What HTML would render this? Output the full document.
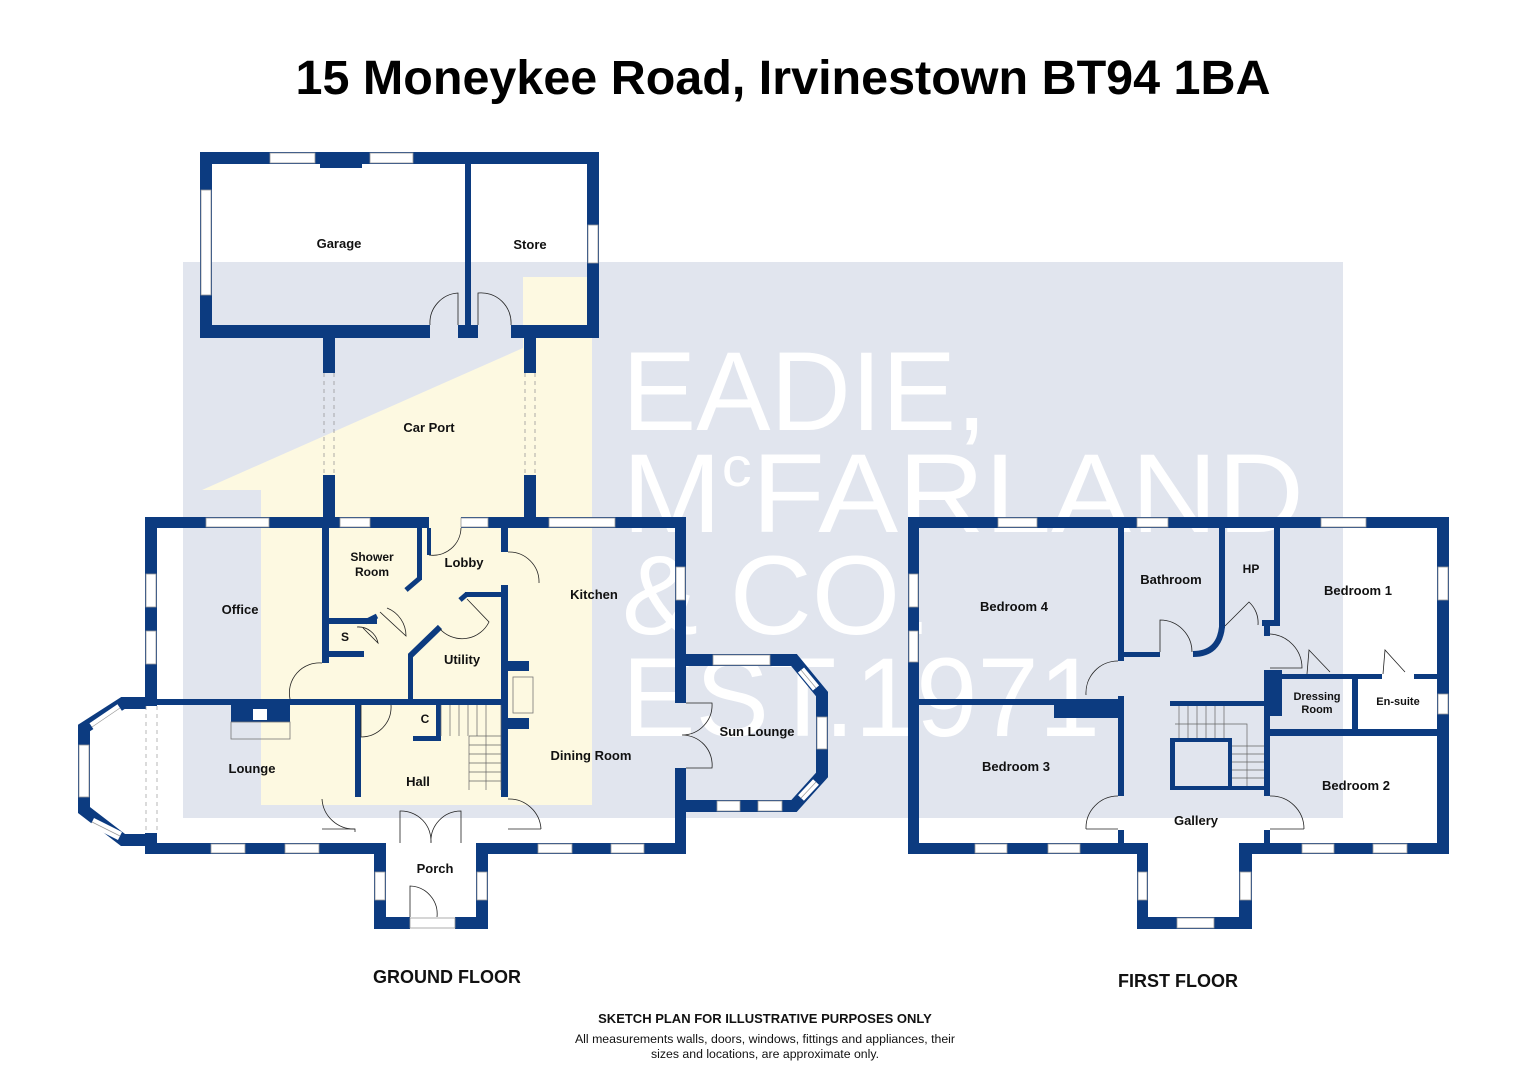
<!DOCTYPE html>
<html><head><meta charset="utf-8"><style>
html,body{margin:0;padding:0;background:#fff;}
svg{display:block;}
.l{font-family:"Liberation Sans",Arial,sans-serif;font-weight:bold;fill:#111;text-anchor:middle;}
.w{fill:#0c3b80;}
.win{fill:#fff;stroke:#9a9a9a;stroke-width:0.8;}
.d{fill:none;stroke:#222;stroke-width:0.8;}
</style></head><body>
<svg width="1528" height="1080" viewBox="0 0 1528 1080" xmlns="http://www.w3.org/2000/svg" font-size="13">
<text x="783" y="94" font-family="Liberation Sans,Arial,sans-serif" font-weight="bold" font-size="48" text-anchor="middle" textLength="975" lengthAdjust="spacingAndGlyphs" fill="#000">15 Moneykee Road, Irvinestown BT94 1BA</text>

<rect x="183" y="262" width="1160" height="556" fill="#e1e5ee"/>
<polygon points="523,277 592,277 592,805 261,805 261,490 202,490 523,348" fill="#fdf9e1"/>
<rect x="212" y="164" width="253" height="98" fill="#fff"/>
<rect x="471" y="164" width="116" height="98" fill="#fff"/>
<rect x="157" y="528" width="26" height="315" fill="#fff"/>
<rect x="157" y="818" width="518" height="25" fill="#fff"/>
<rect x="919" y="818" width="518" height="25" fill="#fff"/>
<rect x="1148" y="843" width="91" height="74" fill="#fff"/>
<rect x="386" y="843" width="90" height="74" fill="#fff"/>
<rect x="90" y="706" width="56" height="136" fill="#fff"/>

<g font-family="Liberation Sans,Arial,sans-serif" font-size="112" fill="#fff">
<text x="622" y="430" textLength="365" lengthAdjust="spacingAndGlyphs">EADIE,</text>
<text x="622" y="532" textLength="682" lengthAdjust="spacingAndGlyphs">M<tspan font-size="56" dy="-46">c</tspan><tspan dy="46">FARLAND</tspan></text>
<text x="622" y="634" textLength="310" lengthAdjust="spacingAndGlyphs">&amp; CO.</text>
<text x="622" y="736" textLength="478" lengthAdjust="spacingAndGlyphs">EST.1971</text>
</g>

<!-- GARAGE -->
<rect class="w" x="200" y="152" width="399" height="12"/>
<rect class="w" x="200" y="152" width="12" height="186"/>
<rect class="w" x="587" y="152" width="12" height="186"/>
<rect class="w" x="200" y="325" width="230" height="13"/>
<rect class="w" x="511" y="325" width="88" height="13"/>
<rect class="w" x="458" y="325" width="20" height="13"/>
<rect class="w" x="465" y="152" width="6" height="180"/>
<rect class="win" x="270" y="153" width="45" height="10"/>
<rect class="win" x="370" y="153" width="43" height="10"/>
<rect class="w" x="320" y="152" width="42" height="16"/>
<rect class="win" x="201" y="190" width="10" height="105"/>
<rect class="win" x="588" y="225" width="10" height="38"/>
<path class="d" d="M430,325 A30,30 0 0 1 458,293 L458,325 M511,325 A30,30 0 0 0 478,293 L478,325"/>
<rect class="w" x="323" y="338" width="12" height="35"/>
<rect class="w" x="323" y="475" width="12" height="43"/>
<rect class="w" x="524" y="338" width="12" height="35"/>
<rect class="w" x="524" y="475" width="12" height="43"/>
<path d="M324,373V475M334,373V475M525,373V475M535,373V475" stroke="#999" stroke-width="0.8" stroke-dasharray="4,4"/>

<!-- GROUND FLOOR outer -->
<rect class="w" x="145" y="517" width="541" height="11"/>
<rect class="w" x="145" y="517" width="12" height="189"/>
<rect class="w" x="145" y="833" width="12" height="21"/>
<rect class="w" x="675" y="517" width="11" height="186"/>
<rect class="w" x="675" y="768" width="11" height="86"/>
<rect class="w" x="145" y="843" width="241" height="11"/>
<rect class="w" x="476" y="843" width="210" height="11"/>
<rect class="win" x="206" y="518" width="63" height="9"/>
<rect class="win" x="340" y="518" width="30" height="9"/>
<rect fill="#fdf9e1" x="429" y="517" width="32" height="11"/>
<rect class="win" x="461" y="518" width="27" height="9"/>
<rect class="win" x="549" y="518" width="66" height="9"/>
<rect class="win" x="146" y="574" width="10" height="33"/>
<rect class="win" x="146" y="631" width="10" height="33"/>
<rect class="win" x="676" y="567" width="9" height="33"/>
<rect class="win" x="211" y="844" width="34" height="9"/>
<rect class="win" x="285" y="844" width="34" height="9"/>
<rect class="win" x="538" y="844" width="34" height="9"/>
<rect class="win" x="611" y="844" width="33" height="9"/>
<rect class="w" x="374" y="843" width="12" height="86"/>
<rect class="w" x="476" y="843" width="12" height="86"/>
<rect class="w" x="374" y="917" width="36" height="12"/>
<rect class="w" x="455" y="917" width="33" height="12"/>
<rect class="win" x="375" y="872" width="10" height="28"/>
<rect class="win" x="477" y="872" width="10" height="28"/>
<rect class="win" x="410" y="918" width="45" height="10"/>
<path class="d" d="M400,843 L400,811 A30,30 0 0 1 431,843 M461,843 L461,811 A30,30 0 0 0 431,843 M410,917 L410,886 A28,28 0 0 1 437,917"/>
<rect class="w" x="322" y="517" width="7" height="146"/>
<rect class="w" x="322" y="618" width="55" height="6"/>
<rect class="w" x="322" y="651" width="42" height="6"/>
<rect class="w" x="145" y="699" width="214" height="6"/>
<rect class="w" x="360" y="699" width="148" height="6"/>
<rect class="w" x="355" y="699" width="6" height="98"/>
<rect class="w" x="501" y="528" width="7" height="24"/>
<rect class="w" x="501" y="585" width="7" height="212"/>
<rect class="w" x="408" y="654" width="5" height="47"/>
<path d="M410,656 L440,627" stroke="#0c3b80" stroke-width="6"/>
<rect class="w" x="465" y="592" width="37" height="5"/>
<path d="M467,594 L460,600" stroke="#0c3b80" stroke-width="5"/>
<rect class="w" x="417" y="528" width="5" height="52"/>
<path d="M420,578 L406,590" stroke="#0c3b80" stroke-width="5"/>
<path d="M365,622 L377,616" stroke="#0c3b80" stroke-width="5"/>
<rect class="w" x="427" y="528" width="4" height="27"/>
<rect class="w" x="508" y="661" width="21" height="10"/>
<rect class="w" x="508" y="718" width="21" height="11"/>
<rect x="513" y="677" width="20" height="36" fill="none" stroke="#777" stroke-width="0.8"/>
<rect class="w" x="231" y="705" width="59" height="17"/>
<rect x="253" y="709" width="14" height="11" fill="#fff"/>
<rect x="231" y="722" width="59" height="17" fill="none" stroke="#777" stroke-width="0.8"/>
<rect class="w" x="413" y="736" width="28" height="5"/>
<rect class="w" x="436" y="705" width="5" height="36"/>
<g stroke="#666" stroke-width="0.7" fill="none">
<path d="M441,705V736M450,705V736M459,705V736M468,705V736M477,705V736M486,705V790M501,705V790M469,736H501M469,736V790M469,745H501M469,754H501M469,763H501M469,772H501M469,781H501"/>
</g>
<path class="d" d="M290,699 A30,30 0 0 1 322,663 M361,705 L361,737 A30,30 0 0 0 391,705 M387,608 A30,30 0 0 1 406,636 L380,612 M429,555 A28,28 0 0 0 461,528 M508,552 A30,30 0 0 1 539,583 M440,629 A30,30 0 0 0 489,622 L467,599 M357,627 A20,20 0 0 1 378,643 L363,628 M322,799 A32,32 0 0 0 355,829 L355,832 M508,799 A32,32 0 0 1 541,829"/>
<path class="d" d="M322,829H355M508,829H541"/>
<path d="M146,703 L123,703 L84,728 L84,810 L123,840 L146,840" fill="none" stroke="#0c3b80" stroke-width="12" stroke-linejoin="miter"/>
<path d="M120,708 L92,727" stroke="#fff" stroke-width="9"/><path d="M120,708 L92,727" stroke="#999" stroke-width="0.7"/>
<path d="M92,822 L120,836" stroke="#fff" stroke-width="9"/><path d="M92,822 L120,836" stroke="#999" stroke-width="0.7"/>
<rect class="win" x="79" y="745" width="10" height="52"/>
<path d="M146,706V833M157,706V833" stroke="#999" stroke-width="0.7" stroke-dasharray="4,4"/>
<path d="M686,660 L794,660 L822,694 L822,775 L794,806 L686,806" fill="none" stroke="#0c3b80" stroke-width="12"/>
<rect class="win" x="713" y="655" width="57" height="10"/>
<rect class="win" x="817" y="717" width="10" height="32"/>
<rect class="win" x="717" y="801" width="23" height="10"/>
<rect class="win" x="758" y="801" width="24" height="10"/>
<path d="M801,670 L816,688" stroke="#fff" stroke-width="8"/><path d="M801,670 L816,688" stroke="#999" stroke-width="0.7"/>
<path d="M816,782 L801,798" stroke="#fff" stroke-width="8"/><path d="M816,782 L801,798" stroke="#999" stroke-width="0.7"/>
<path class="d" d="M686,703 L712,703 A30,30 0 0 1 682,735 M686,768 L712,768 A30,30 0 0 0 682,735"/>

<!-- FIRST FLOOR -->
<rect class="w" x="908" y="517" width="541" height="11"/>
<rect class="w" x="908" y="517" width="11" height="337"/>
<rect class="w" x="1437" y="517" width="12" height="337"/>
<rect class="w" x="908" y="843" width="240" height="11"/>
<rect class="w" x="1239" y="843" width="210" height="11"/>
<rect class="win" x="998" y="518" width="39" height="9"/>
<rect class="win" x="1137" y="518" width="31" height="9"/>
<rect class="win" x="1321" y="518" width="45" height="9"/>
<rect class="win" x="909" y="574" width="9" height="33"/>
<rect class="win" x="909" y="631" width="9" height="31"/>
<rect class="win" x="1438" y="567" width="10" height="33"/>
<rect class="win" x="1438" y="694" width="10" height="20"/>
<rect class="win" x="975" y="844" width="32" height="9"/>
<rect class="win" x="1048" y="844" width="32" height="9"/>
<rect class="win" x="1302" y="844" width="32" height="9"/>
<rect class="win" x="1373" y="844" width="34" height="9"/>
<rect class="w" x="1137" y="843" width="11" height="86"/>
<rect class="w" x="1239" y="843" width="13" height="86"/>
<rect class="w" x="1137" y="917" width="115" height="12"/>
<rect class="win" x="1138" y="872" width="9" height="28"/>
<rect class="win" x="1240" y="872" width="11" height="28"/>
<rect class="win" x="1177" y="918" width="37" height="10"/>
<rect class="w" x="1118" y="528" width="6" height="133"/>
<rect class="w" x="1118" y="696" width="6" height="100"/>
<rect class="w" x="1118" y="830" width="6" height="14"/>
<rect class="w" x="1264" y="830" width="6" height="14"/>
<rect class="w" x="919" y="699" width="205" height="6"/>
<rect class="w" x="1054" y="705" width="64" height="13"/>
<rect class="w" x="1124" y="652" width="36" height="5"/>
<path d="M1193,654 Q1219,654 1222,627" fill="none" stroke="#0c3b80" stroke-width="6"/>
<rect class="w" x="1219" y="528" width="6" height="100"/>
<rect class="w" x="1274" y="528" width="6" height="97"/>
<rect class="w" x="1262" y="620" width="18" height="6"/>
<rect class="w" x="1264" y="620" width="6" height="16"/>
<rect class="w" x="1264" y="670" width="18" height="46"/>
<rect class="w" x="1264" y="670" width="6" height="126"/>
<rect class="w" x="1282" y="674" width="55" height="5"/>
<rect class="w" x="1337" y="674" width="45" height="5"/>
<rect class="w" x="1414" y="674" width="23" height="5"/>
<rect class="w" x="1352" y="674" width="6" height="56"/>
<rect class="w" x="1268" y="729" width="169" height="7"/>
<rect class="w" x="1170" y="701" width="94" height="5"/>
<rect class="w" x="1170" y="738" width="5" height="52"/>
<rect class="w" x="1170" y="738" width="60" height="4"/>
<rect class="w" x="1170" y="786" width="94" height="4"/>
<rect class="w" x="1228" y="738" width="4" height="52"/>
<g stroke="#666" stroke-width="0.7" fill="none">
<path d="M1179,706V738M1188,706V738M1197,706V738M1206,706V738M1215,706V738M1224,706V738M1175,724H1247V786M1232,746H1264M1232,754H1264M1232,762H1264M1232,770H1264M1232,778H1264"/>
</g>
<path class="d" d="M1086,695 A32,32 0 0 1 1118,661 M1160,652 L1160,620 A32,32 0 0 1 1192,652 M1225,626 L1249,602 A28,28 0 0 1 1258,625 M1270,634 A34,34 0 0 1 1302,668 L1270,668 M1307,674 L1309,650 L1330,672 M1383,674 L1385,650 L1405,672 M1086,829 A32,32 0 0 1 1118,796 M1270,796 A33,33 0 0 1 1304,829 M1086,829H1118M1270,829H1304"/>

<!-- labels -->
<text class="l" x="339" y="248">Garage</text>
<text class="l" x="530" y="249">Store</text>
<text class="l" x="429" y="432">Car Port</text>
<text class="l" x="240" y="614">Office</text>
<text class="l" x="372" y="561" style="font-size:12px">Shower</text>
<text class="l" x="372" y="576" style="font-size:12px">Room</text>
<text class="l" x="345" y="641" style="font-size:12px">S</text>
<text class="l" x="464" y="567">Lobby</text>
<text class="l" x="594" y="599">Kitchen</text>
<text class="l" x="462" y="664">Utility</text>
<text class="l" x="425" y="723" style="font-size:12px">C</text>
<text class="l" x="252" y="773">Lounge</text>
<text class="l" x="418" y="786">Hall</text>
<text class="l" x="591" y="760">Dining Room</text>
<text class="l" x="757" y="736">Sun Lounge</text>
<text class="l" x="435" y="873">Porch</text>
<text class="l" x="1014" y="611">Bedroom 4</text>
<text class="l" x="1171" y="584">Bathroom</text>
<text class="l" x="1251" y="573" style="font-size:12px">HP</text>
<text class="l" x="1358" y="595">Bedroom 1</text>
<text class="l" x="1317" y="700" style="font-size:11px">Dressing</text>
<text class="l" x="1317" y="713" style="font-size:11px">Room</text>
<text class="l" x="1398" y="705" style="font-size:11px">En-suite</text>
<text class="l" x="1016" y="771">Bedroom 3</text>
<text class="l" x="1356" y="790">Bedroom 2</text>
<text class="l" x="1196" y="825">Gallery</text>
<text class="l" x="447" y="983" style="font-size:18px">GROUND FLOOR</text>
<text class="l" x="1178" y="987" style="font-size:18px">FIRST FLOOR</text>
<text class="l" x="765" y="1023" style="font-size:13px">SKETCH PLAN FOR ILLUSTRATIVE PURPOSES ONLY</text>
<text x="765" y="1043" font-family="Liberation Sans,Arial,sans-serif" style="font-size:12.3px" text-anchor="middle" fill="#111">All measurements walls, doors, windows, fittings and appliances, their</text>
<text x="765" y="1058" font-family="Liberation Sans,Arial,sans-serif" style="font-size:12.3px" text-anchor="middle" fill="#111">sizes and locations, are approximate only.</text>
</svg>
</body></html>
